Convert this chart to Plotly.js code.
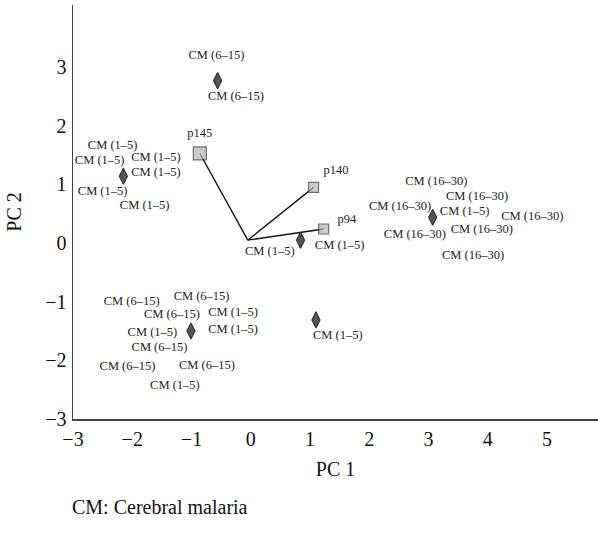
<!DOCTYPE html>
<html>
<head>
<meta charset="utf-8">
<script src="https://cdn.plot.ly/plotly-3.0.1.min.js"></script>
<style>html,body{margin:0;padding:0;background:#fff}#chart{width:598px;height:535px}</style>
</head>
<body>
<div id="chart"></div>
<script>
// Group centroids (diamonds)
const centroidX = [-0.56, -2.15, 0.84, 3.07, -1.01, 1.10];
const centroidY = [2.77, 1.14, 0.05, 0.44, -1.50, -1.31];

// Loading vectors (squares) and origin
const loadingNames = ["p145", "p140", "p94"];
const loadingX = [-0.86, 1.06, 1.23];
const loadingY = [1.53, 0.95, 0.24];
const loadingSizes = [13, 10, 10];
const originX = -0.05;
const originY = 0.05;
const loadingLabelX = [-0.86, 1.44, 1.62];
const loadingLabelY = [1.87, 1.23, 0.39];

// Sample labels
const sampleText = [
  "CM (6–15)", "CM (6–15)",
  "CM (1–5)", "CM (1–5)", "CM (1–5)", "CM (1–5)", "CM (1–5)", "CM (1–5)",
  "CM (1–5)", "CM (1–5)",
  "CM (16–30)", "CM (16–30)", "CM (16–30)", "CM (1–5)", "CM (16–30)", "CM (16–30)", "CM (16–30)", "CM (16–30)",
  "CM (6–15)", "CM (6–15)", "CM (6–15)", "CM (1–5)", "CM (1–5)", "CM (1–5)", "CM (6–15)", "CM (6–15)", "CM (6–15)", "CM (1–5)",
  "CM (1–5)"
];
const sampleX = [
  -0.58, -0.25,
  -2.33, -2.55, -1.60, -1.60, -2.50, -1.79,
  0.32, 1.50,
  3.13, 3.82, 2.52, 3.61, 4.75, 2.77, 3.90, 3.75,
  -2.01, -0.83, -1.33, -0.30, -1.66, -0.30, -1.54, -2.08, -0.74, -1.28,
  1.47
];
const sampleY = [
  3.20, 2.50,
  1.65, 1.41, 1.45, 1.19, 0.87, 0.63,
  -0.15, -0.05,
  1.04, 0.78, 0.61, 0.53, 0.44, 0.14, 0.22, -0.22,
  -1.01, -0.92, -1.23, -1.19, -1.53, -1.48, -1.79, -2.11, -2.10, -2.44,
  -1.58
];

const xTicks = [-3, -2, -1, 0, 1, 2, 3, 4, 5];
const yTicks = [-3, -2, -1, 0, 1, 2, 3];

const serif = "Liberation Serif, Times New Roman, serif";

const traces = [];
// vector lines
for (let i = 0; i < loadingX.length; i++) {
  traces.push({
    x: [originX, loadingX[i]], y: [originY, loadingY[i]],
    mode: "lines", line: {color: "#111", width: 1.3},
    hoverinfo: "skip", showlegend: false
  });
}
traces.push({
  x: sampleX, y: sampleY, text: sampleText, mode: "text",
  textposition: "middle center",
  textfont: {family: serif, size: 12.5, color: "#222"},
  showlegend: false, hoverinfo: "skip"
});
traces.push({
  x: loadingLabelX, y: loadingLabelY, text: loadingNames, mode: "text",
  textposition: "middle center",
  textfont: {family: serif, size: 12.5, color: "#222"},
  showlegend: false, hoverinfo: "skip"
});
traces.push({
  x: centroidX, y: centroidY, mode: "markers",
  marker: {symbol: "diamond-tall", size: 11.5, color: "#555", line: {color: "#333", width: 1.2}},
  showlegend: false
});
traces.push({
  x: loadingX, y: loadingY, mode: "markers",
  marker: {symbol: "square", size: loadingSizes, color: "#b5b5b5", line: {color: "#333", width: 1.2}},
  showlegend: false
});

const layout = {
  width: 598, height: 535,
  margin: {l: 73, r: 0, t: 5, b: 116},
  paper_bgcolor: "#fff", plot_bgcolor: "#fff",
  font: {family: serif, size: 20, color: "#111"},
  showlegend: false,
  xaxis: {
    range: [-3, 5.86], tickvals: xTicks, ticktext: xTicks.map(v => v < 0 ? "−" + Math.abs(v) : String(v)),
    showgrid: false, zeroline: false, showline: true, linecolor: "#444", linewidth: 1.5,
    ticks: "", ticklabelstandoff: 1, tickfont: {family: serif, size: 20},
    title: {text: "PC 1", font: {family: serif, size: 20}, standoff: 13}
  },
  yaxis: {
    range: [-3, 4.06], tickvals: yTicks, ticktext: yTicks.map(v => v < 0 ? "−" + Math.abs(v) : String(v)),
    showgrid: false, zeroline: false, showline: true, linecolor: "#444", linewidth: 1.5,
    ticks: "", ticklabelstandoff: 1, tickfont: {family: serif, size: 20},
    title: {text: "PC 2", font: {family: serif, size: 20}, standoff: 18}
  },
  annotations: [{
    text: "CM: Cerebral malaria", xref: "paper", yref: "paper",
    x: -3 / 525, y: -88 / 414, xanchor: "left", yanchor: "middle",
    showarrow: false, font: {family: serif, size: 20, color: "#111"}
  }]
};

Plotly.newPlot("chart", traces, layout, {displayModeBar: false, staticPlot: true});
</script>
</body>
</html>
